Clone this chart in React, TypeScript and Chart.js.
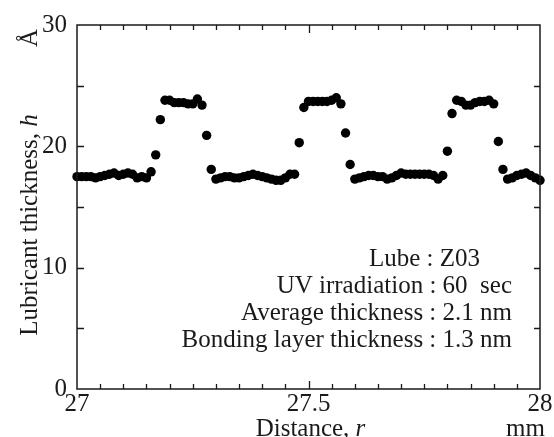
import React, { useEffect, useRef } from "react";
import { Chart, registerables } from "chart.js";
Chart.register(...registerables);

// Distance r (mm)
const distances = [
  27.0, 27.01, 27.02, 27.03, 27.04, 27.05, 27.06, 27.07, 27.08, 27.09,
  27.1, 27.11, 27.12, 27.13, 27.14, 27.15, 27.16, 27.17, 27.18, 27.19,
  27.2, 27.21, 27.22, 27.23, 27.24, 27.25, 27.26, 27.27, 27.28, 27.29,
  27.3, 27.31, 27.32, 27.33, 27.34, 27.35, 27.36, 27.37, 27.38, 27.39,
  27.4, 27.41, 27.42, 27.43, 27.44, 27.45, 27.46, 27.47, 27.48, 27.49,
  27.5, 27.51, 27.52, 27.53, 27.54, 27.55, 27.56, 27.57, 27.58, 27.59,
  27.6, 27.61, 27.62, 27.63, 27.64, 27.65, 27.66, 27.67, 27.68, 27.69,
  27.7, 27.71, 27.72, 27.73, 27.74, 27.75, 27.76, 27.77, 27.78, 27.79,
  27.8, 27.81, 27.82, 27.83, 27.84, 27.85, 27.86, 27.87, 27.88, 27.89,
  27.9, 27.91, 27.92, 27.93, 27.94, 27.95, 27.96, 27.97, 27.98, 27.99,
  28.0,
];

// Lubricant thickness h (Å)
const thickness = [
  17.5, 17.5, 17.5, 17.5, 17.4, 17.5, 17.6, 17.7, 17.8, 17.6,
  17.7, 17.8, 17.7, 17.4, 17.5, 17.4, 17.9, 19.3, 22.2, 23.8,
  23.8, 23.6, 23.6, 23.6, 23.5, 23.5, 23.9, 23.4, 20.9, 18.1,
  17.3, 17.4, 17.5, 17.5, 17.4, 17.4, 17.5, 17.6, 17.7, 17.6,
  17.5, 17.4, 17.3, 17.2, 17.2, 17.4, 17.7, 17.7, 20.3, 23.2,
  23.7, 23.7, 23.7, 23.7, 23.7, 23.8, 24.0, 23.5, 21.1, 18.5,
  17.3, 17.4, 17.5, 17.6, 17.6, 17.5, 17.5, 17.3, 17.4, 17.6,
  17.8, 17.7, 17.7, 17.7, 17.7, 17.7, 17.7, 17.6, 17.3, 17.6,
  19.6, 22.7, 23.8, 23.7, 23.4, 23.4, 23.6, 23.7, 23.7, 23.8,
  23.5, 20.4, 18.1, 17.3, 17.4, 17.6, 17.7, 17.8, 17.6, 17.4,
  17.2,
];

const xTickLabels = [27, 27.5, 28];
const yTickLabels = [0, 10, 20, 30];
const xMinorStep = 0.05;
const yMinorStep = 5;

const xTitle = "Distance, ";
const xTitleItalic = "r";
const xUnit = "mm";
const yTitle = "Lubricant thickness, ";
const yTitleItalic = "h";
const yUnit = "Å";

const annotationLines = [
  "Lube : Z03",
  "UV irradiation : 60  sec",
  "Average thickness : 2.1 nm",
  "Bonding layer thickness : 1.3 nm",
];
const annotationRightEdges = [480, 512, 512, 512];

const FONT = "'Liberation Serif', 'Times New Roman', serif";
const INK = "#1a1a1a";

const framePlugin = {
  id: "framePlugin",
  afterDraw(chart: any) {
    const { ctx, chartArea } = chart;
    const xs = chart.scales.x;
    const ys = chart.scales.y;
    const { left, right, top, bottom } = chartArea;
    ctx.save();
    ctx.strokeStyle = INK;
    ctx.lineWidth = 1.5;
    ctx.strokeRect(left, top, right - left, bottom - top);

    // x ticks (bottom and top, inward)
    ctx.lineWidth = 1.3;
    const nX = Math.round((xs.max - xs.min) / xMinorStep);
    for (let i = 1; i < nX; i++) {
      const v = xs.min + i * xMinorStep;
      const px = Math.round(xs.getPixelForValue(v)) + 0.5;
      const major = xTickLabels.some((t) => Math.abs(t - v) < 1e-6);
      const len = major ? 8 : 5;
      ctx.beginPath();
      ctx.moveTo(px, bottom);
      ctx.lineTo(px, bottom - len);
      ctx.moveTo(px, top);
      ctx.lineTo(px, top + len);
      ctx.stroke();
    }
    // y ticks (left and right, inward)
    const nY = Math.round((ys.max - ys.min) / yMinorStep);
    for (let i = 1; i < nY; i++) {
      const v = ys.min + i * yMinorStep;
      const py = Math.round(ys.getPixelForValue(v)) + 0.5;
      ctx.beginPath();
      ctx.moveTo(left, py);
      ctx.lineTo(left + 7, py);
      ctx.moveTo(right, py);
      ctx.lineTo(right - 6, py);
      ctx.stroke();
    }

    ctx.fillStyle = INK;
    // x title
    ctx.textBaseline = "alphabetic";
    ctx.font = `25px ${FONT}`;
    const w1 = ctx.measureText(xTitle).width;
    ctx.font = `italic 25px ${FONT}`;
    const w2 = ctx.measureText(xTitleItalic).width;
    const cx = (left + right) / 2 + 2;
    const sx = cx - (w1 + w2) / 2;
    ctx.font = `25px ${FONT}`;
    ctx.textAlign = "left";
    ctx.fillText(xTitle, sx, 436);
    ctx.font = `italic 25px ${FONT}`;
    ctx.fillText(xTitleItalic, sx + w1, 436);
    ctx.font = `25px ${FONT}`;
    ctx.textAlign = "right";
    ctx.fillText(xUnit, 545, 436);

    // y title (rotated)
    ctx.save();
    ctx.translate(37, 225);
    ctx.rotate(-Math.PI / 2);
    ctx.font = `25px ${FONT}`;
    const v1 = ctx.measureText(yTitle).width;
    ctx.font = `italic 25px ${FONT}`;
    const v2 = ctx.measureText(yTitleItalic).width;
    const sy = -(v1 + v2) / 2;
    ctx.textAlign = "left";
    ctx.font = `25px ${FONT}`;
    ctx.fillText(yTitle, sy, 0);
    ctx.font = `italic 25px ${FONT}`;
    ctx.fillText(yTitleItalic, sy + v1, 0);
    ctx.restore();

    ctx.save();
    ctx.translate(37, 38);
    ctx.rotate(-Math.PI / 2);
    ctx.font = `25px ${FONT}`;
    ctx.textAlign = "center";
    ctx.fillText(yUnit, 0, 0);
    ctx.restore();

    // annotation
    ctx.font = `25px ${FONT}`;
    ctx.textAlign = "right";
    annotationLines.forEach((line, i) => {
      ctx.fillText(line, annotationRightEdges[i], 266 + i * 27);
    });
    ctx.restore();
  },
};

export default function App() {
  const ref = useRef<HTMLCanvasElement | null>(null);
  useEffect(() => {
    if (!ref.current) return;
    const chart = new Chart(ref.current, {
      type: "scatter",
      data: {
        datasets: [
          {
            data: distances.map((d, i) => ({ x: d, y: thickness[i] })),
            backgroundColor: "#000",
            borderColor: "#000",
            borderWidth: 0,
            pointRadius: 4.7,
            pointHoverRadius: 4.7,
            showLine: false,
            clip: false as any,
          },
        ],
      },
      options: {
        animation: false,
        responsive: false,
        maintainAspectRatio: false,
        events: [],
        layout: { padding: { top: 22, right: 14, left: 0, bottom: 0 } },
        plugins: {
          legend: { display: false },
          tooltip: { enabled: false },
          title: { display: false },
        },
        scales: {
          x: {
            type: "linear",
            min: 27,
            max: 28,
            grid: { display: false, drawTicks: false },
            border: { display: false },
            afterBuildTicks: (s: any) => {
              s.ticks = xTickLabels.map((v) => ({ value: v }));
            },
            afterFit: (s: any) => {
              s.height = 48;
            },
            ticks: {
              color: INK,
              padding: 0,
              maxRotation: 0,
              autoSkip: false,
              font: { family: FONT, size: 25 },
              callback: (v: any) => String(v),
            },
          },
          y: {
            type: "linear",
            min: 0,
            max: 30,
            grid: { display: false, drawTicks: false },
            border: { display: false },
            afterBuildTicks: (s: any) => {
              s.ticks = yTickLabels.map((v) => ({ value: v }));
            },
            afterFit: (s: any) => {
              s.width = 77;
            },
            ticks: {
              color: INK,
              padding: 10,
              font: { family: FONT, size: 25 },
              callback: (v: any) => String(v),
            },
          },
        },
      },
      plugins: [framePlugin],
    });
    return () => chart.destroy();
  }, []);
  return (
    <div style={{ position: "absolute", left: 0, top: 0, width: 554, height: 437, background: "#fff" }}>
      <canvas ref={ref} width={554} height={437} style={{ display: "block" }} />
    </div>
  );
}
